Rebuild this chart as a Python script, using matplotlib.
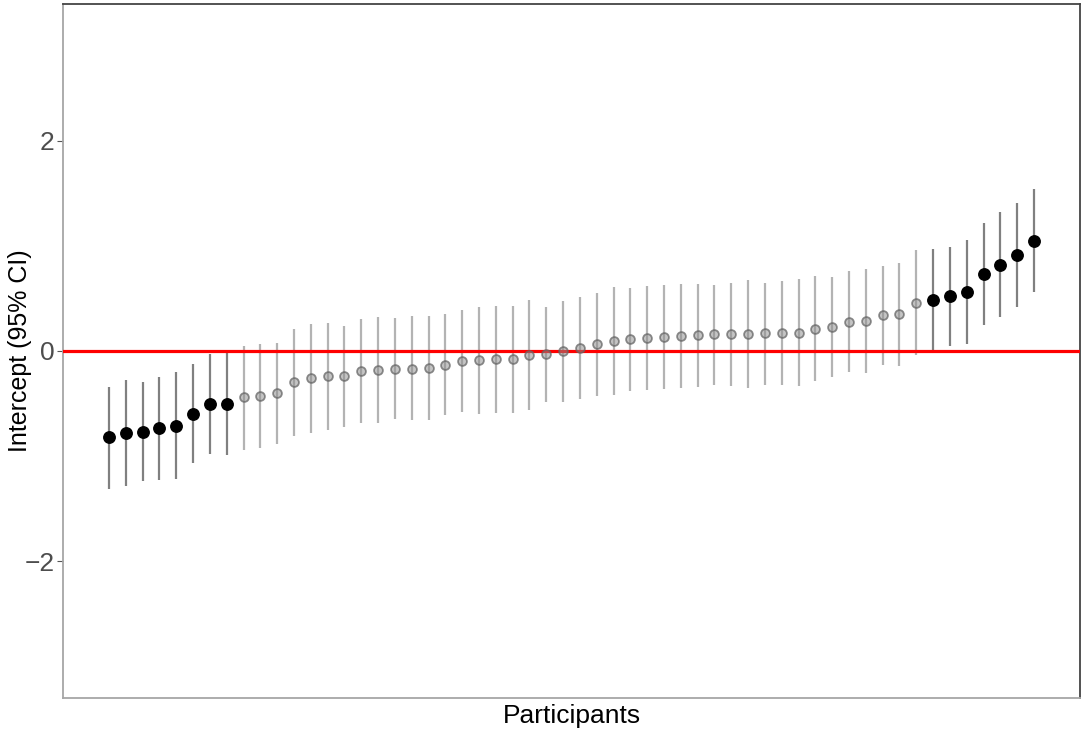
import numpy as np
import matplotlib.pyplot as plt

plt.rcParams['font.family'] = ['Liberation Sans', 'DejaVu Sans']

# оценки интерсептов по участникам (отсортированы), нижние и верхние границы 95% ДИ
estimate = [
    -0.82, -0.78, -0.77, -0.73, -0.71, -0.60, -0.50, -0.50,
    -0.44, -0.43, -0.40, -0.30, -0.26, -0.24, -0.235, -0.19, -0.18, -0.17, -0.17, -0.16,
    -0.13, -0.10, -0.09, -0.08, -0.08, -0.035, -0.03, 0.00, 0.03, 0.07, 0.095, 0.11,
    0.12, 0.13, 0.145, 0.15, 0.16, 0.165, 0.165,
    0.17, 0.175, 0.175, 0.21, 0.23, 0.28, 0.285, 0.34, 0.35, 0.46,
    0.49, 0.52, 0.56, 0.73, 0.82, 0.91, 1.05,
]
lower = [
    -1.31, -1.29, -1.24, -1.23, -1.22, -1.07, -0.98, -0.99,
    -0.94, -0.92, -0.89, -0.81, -0.78, -0.75, -0.72, -0.69, -0.69, -0.65, -0.66, -0.66,
    -0.61, -0.58, -0.60, -0.59, -0.59, -0.56, -0.49, -0.49, -0.46, -0.43, -0.42, -0.38,
    -0.37, -0.36, -0.35, -0.34, -0.32, -0.33, -0.35,
    -0.32, -0.32, -0.33, -0.29, -0.245, -0.20, -0.21, -0.13, -0.14, -0.04,
    0.01, 0.05, 0.07, 0.25, 0.32, 0.42, 0.56,
]
upper = [
    -0.34, -0.28, -0.30, -0.25, -0.20, -0.12, -0.03, -0.01,
    0.05, 0.07, 0.08, 0.21, 0.26, 0.27, 0.24, 0.30, 0.32, 0.31, 0.33, 0.33,
    0.35, 0.39, 0.42, 0.43, 0.43, 0.49, 0.42, 0.48, 0.51, 0.55, 0.61, 0.60,
    0.62, 0.63, 0.64, 0.64, 0.63, 0.65, 0.68,
    0.65, 0.67, 0.69, 0.71, 0.70, 0.76, 0.78, 0.81, 0.84, 0.96,
    0.97, 0.99, 1.06, 1.22, 1.32, 1.41, 1.54,
]
y_ticks = [-2, 0, 2]


def main() -> None:
    est = np.array(estimate)
    lo = np.array(lower)
    hi = np.array(upper)
    x = np.arange(1, len(est) + 1)
    # значимые — ДИ не пересекает ноль
    sig = (lo > 0) | (hi < 0)

    fig = plt.figure(figsize=(10.84, 7.34), dpi=100)
    ax = fig.add_axes([0.0581, 0.049, 0.9382, 0.9456])

    ax.vlines(x[~sig], lo[~sig], hi[~sig], color='#b3b3b3', linewidth=1.6, zorder=2)
    ax.vlines(x[sig], lo[sig], hi[sig], color='#808080', linewidth=1.6, zorder=2)
    ax.axhline(0, color='#ff0000', linewidth=2.3, zorder=3)
    ax.scatter(x[~sig], est[~sig], s=40, facecolor=(0.55, 0.55, 0.55, 0.5),
               edgecolor=(0.4, 0.4, 0.4, 0.75), linewidth=1.3, zorder=4)
    ax.scatter(x[sig], est[sig], s=68, color='black', zorder=5)

    ax.set_xlim(-1.735, len(est) + 2.735)
    ax.set_ylim(-3.305, 3.305)
    ax.set_xticks([])
    ax.set_yticks(y_ticks)
    ax.set_yticklabels(['\u22122', '0', '2'])
    ax.tick_params(axis='y', labelsize=19, length=4, pad=2, color='#555555', labelcolor='#4d4d4d')
    ax.set_xlabel('Participants', fontsize=19)
    ax.xaxis.set_label_coords(0.5, -0.009)
    ax.set_ylabel('Intercept (95% CI)', fontsize=18)
    ax.yaxis.set_label_coords(-0.030, 0.5)

    for side in ['top', 'right']:
        ax.spines[side].set_color('#444444')
        ax.spines[side].set_linewidth(1.3)
    for side in ['left', 'bottom']:
        ax.spines[side].set_color('#a6a6a6')
        ax.spines[side].set_linewidth(1.3)

    fig.savefig('out.png', dpi=100)


if __name__ == "__main__":
    main()
